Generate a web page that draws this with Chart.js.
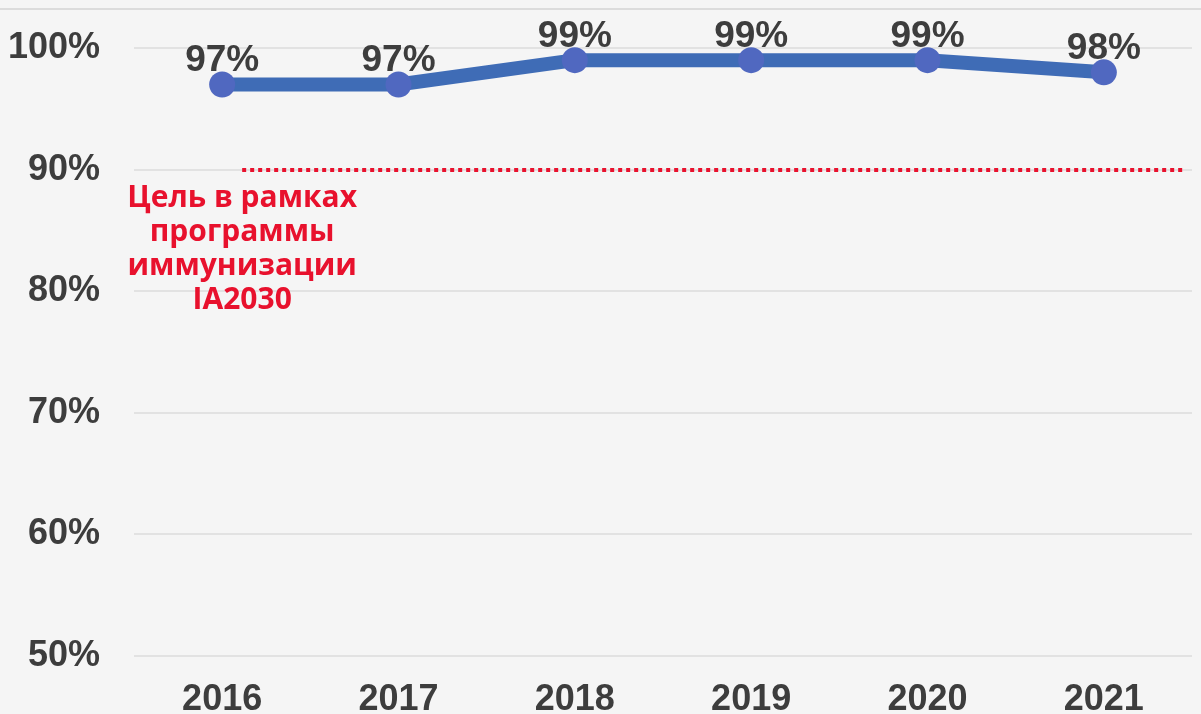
<!DOCTYPE html>
<html>
<head>
<meta charset="utf-8">
<script src="https://cdn.jsdelivr.net/npm/chart.js@4"></script>
<style>
  html, body { margin: 0; padding: 0; background: #f5f5f5; }
  #wrap { position: relative; width: 1201px; height: 714px; }
  #topLine { position: absolute; left: 0; top: 8px; width: 1201px; height: 2px; background: #dcdcdc; }
  canvas { position: absolute; left: 0; top: 0; }
</style>
</head>
<body>
<div id="wrap">
  <div id="topLine"></div>
  <canvas id="chart" width="1201" height="714"></canvas>
</div>
<script>
const years = ['2016', '2017', '2018', '2019', '2020', '2021'];
const coverage = [97, 97, 99, 99, 99, 98];
const yTicks = [50, 60, 70, 80, 90, 100];
const targetValue = 90;
const targetLabel = ['Цель в рамках', 'программы', 'иммунизации', 'IA2030'];

const tickFont = { family: '"Liberation Sans", Arial, sans-serif', size: 36, weight: 'bold' };

// dotted target line + red caption
const targetPlugin = {
  id: 'target',
  afterDraw(chart) {
    const ctx = chart.ctx;
    const y = Math.round(chart.scales.y.getPixelForValue(targetValue));
    const x0 = chart.scales.x.getPixelForValue(0) + 20;
    ctx.save();
    ctx.strokeStyle = '#e8112d';
    ctx.lineWidth = 4;
    ctx.setLineDash([4, 4]);
    ctx.beginPath();
    ctx.moveTo(x0, y);
    ctx.lineTo(chart.chartArea.right - 6, y);
    ctx.stroke();
    ctx.setLineDash([]);
    ctx.fillStyle = '#e8112d';
    ctx.font = 'bold 30px "Open Sans", sans-serif';
    ctx.textAlign = 'center';
    ctx.textBaseline = 'alphabetic';
    targetLabel.forEach((line, i) => {
      ctx.fillText(line, x0, y + 37 + i * 34);
    });
    ctx.restore();
  }
};

// value labels above the points
const valueLabels = {
  id: 'valueLabels',
  afterDatasetsDraw(chart) {
    const ctx = chart.ctx;
    const meta = chart.getDatasetMeta(0);
    ctx.save();
    ctx.fillStyle = '#3d3d3d';
    ctx.font = 'bold 37px "Liberation Sans", Arial, sans-serif';
    ctx.textAlign = 'center';
    ctx.textBaseline = 'alphabetic';
    meta.data.forEach((pt, i) => {
      ctx.fillText(coverage[i] + '%', pt.x, pt.y - 13);
    });
    ctx.restore();
  }
};

new Chart(document.getElementById('chart'), {
  type: 'line',
  data: {
    labels: years,
    datasets: [{
      data: coverage,
      borderColor: '#3f6cb6',
      borderWidth: 14,
      pointRadius: 13,
      pointHoverRadius: 13,
      pointBackgroundColor: '#5068c0',
      pointBorderWidth: 0,
      tension: 0,
      clip: false
    }]
  },
  options: {
    responsive: false,
    animation: false,
    layout: { autoPadding: false, padding: { top: 48, right: 9, left: 0, bottom: 0 } },
    plugins: {
      legend: { display: false },
      tooltip: { enabled: false }
    },
    scales: {
      x: {
        offset: true,
        grid: { display: false, drawTicks: false },
        border: { display: false },
        ticks: { color: '#3d3d3d', font: tickFont, padding: 22 },
        afterFit: scale => { scale.height = 58; }
      },
      y: {
        min: yTicks[0],
        max: yTicks[yTicks.length - 1],
        afterBuildTicks: scale => { scale.ticks = yTicks.map(v => ({ value: v })); },
        grid: { color: '#e2e2e2', lineWidth: 2, drawTicks: false },
        border: { display: false },
        ticks: { color: '#3d3d3d', font: tickFont, padding: 34, callback: v => v + '%' },
        afterFit: scale => {
          scale.width = 134;
          scale.paddingTop = 0;
          scale.paddingBottom = 0;
        }
      }
    }
  },
  plugins: [targetPlugin, valueLabels]
});
</script>
</body>
</html>
